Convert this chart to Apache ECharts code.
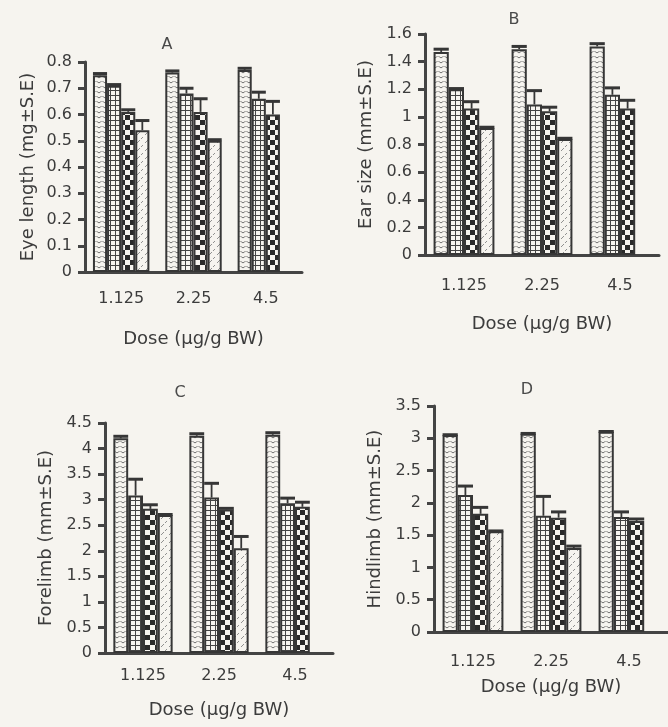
<!DOCTYPE html>
<html><head><meta charset="utf-8">
<script src="https://cdn.jsdelivr.net/npm/echarts@6/dist/echarts.min.js"></script>
<style>html,body{margin:0;padding:0;background:#f6f4ef}#c{width:668px;height:727px}</style>
</head><body><div id="c"></div>
<script>
const doses = ['1.125', '2.25', '4.5'];
const panelLetters = ['A', 'B', 'C', 'D'];
const yNames = ['Eye length (mg±S.E)', 'Ear size (mm±S.E)', 'Forelimb (mm±S.E)', 'Hindlimb (mm±S.E)'];
const xName = 'Dose (µg/g BW)';
const yMax = [0.8, 1.6, 4.5, 3.5];
const yStep = [0.1, 0.2, 0.5, 0.5];

// Panel A: Eye length
const eyeS1 = [0.75, 0.76, 0.77], eyeE1 = [0.006, 0.006, 0.006];
const eyeS2 = [0.71, 0.68, 0.66], eyeE2 = [0.004, 0.02, 0.025];
const eyeS3 = [0.61, 0.61, 0.60], eyeE3 = [0.008, 0.05, 0.05];
const eyeS4 = [0.54, 0.50, null], eyeE4 = [0.037, 0.004, null];
// Panel B: Ear size
const earS1 = [1.47, 1.49, 1.51], earE1 = [0.02, 0.02, 0.02];
const earS2 = [1.20, 1.09, 1.16], earE2 = [0.005, 0.10, 0.05];
const earS3 = [1.06, 1.04, 1.06], earE3 = [0.05, 0.03, 0.06];
const earS4 = [0.92, 0.84, null], earE4 = [0.005, 0.005, null];
// Panel C: Forelimb
const foreS1 = [4.20, 4.25, 4.27], foreE1 = [0.04, 0.04, 0.04];
const foreS2 = [3.08, 3.04, 2.93], foreE2 = [0.32, 0.28, 0.10];
const foreS3 = [2.82, 2.81, 2.86], foreE3 = [0.08, 0.02, 0.09];
const foreS4 = [2.70, 2.05, null], foreE4 = [0.01, 0.23, null];
// Panel D: Hindlimb
const hindS1 = [3.05, 3.07, 3.10], hindE1 = [0.005, 0.005, 0.005];
const hindS2 = [2.12, 1.80, 1.78], hindE2 = [0.14, 0.30, 0.08];
const hindS3 = [1.83, 1.77, 1.72], hindE3 = [0.10, 0.09, 0.03];
const hindS4 = [1.56, 1.30, null], hindE4 = [0.005, 0.03, null];

const panelVals = [[eyeS1, eyeS2, eyeS3, eyeS4], [earS1, earS2, earS3, earS4], [foreS1, foreS2, foreS3, foreS4], [hindS1, hindS2, hindS3, hindS4]];
const panelErrs = [[eyeE1, eyeE2, eyeE3, eyeE4], [earE1, earE2, earE3, earE4], [foreE1, foreE2, foreE3, foreE4], [hindE1, hindE2, hindE3, hindE4]];

const BG = '#f6f4ef', INK = '#363636', TXT = '#3c3c3c';
function pat(type) {
  const c = document.createElement('canvas');
  let ctx;
  if (type === 'wave') {
    c.width = 6; c.height = 5; ctx = c.getContext('2d');
    ctx.fillStyle = BG; ctx.fillRect(0, 0, 6, 5);
    ctx.strokeStyle = '#666'; ctx.lineWidth = 0.9;
    ctx.beginPath(); ctx.moveTo(0.5, 1); ctx.quadraticCurveTo(3, 4.5, 5.5, 1); ctx.stroke();
  } else if (type === 'grid') {
    c.width = 5; c.height = 5; ctx = c.getContext('2d');
    ctx.fillStyle = BG; ctx.fillRect(0, 0, 5, 5);
    ctx.fillStyle = '#444'; ctx.fillRect(0, 0, 5, 1); ctx.fillRect(0, 0, 1, 5);
  } else if (type === 'check') {
    c.width = 10; c.height = 10; ctx = c.getContext('2d');
    ctx.fillStyle = BG; ctx.fillRect(0, 0, 10, 10);
    ctx.fillStyle = '#2a2a2a'; ctx.fillRect(0, 0, 5, 5); ctx.fillRect(5, 5, 5, 5);
  } else {
    c.width = 8; c.height = 8; ctx = c.getContext('2d');
    ctx.fillStyle = BG; ctx.fillRect(0, 0, 8, 8);
    ctx.strokeStyle = '#777'; ctx.lineWidth = 0.8;
    ctx.beginPath(); ctx.moveTo(1, 7); ctx.lineTo(4, 4); ctx.moveTo(5, 3); ctx.lineTo(7, 1); ctx.stroke();
  }
  return { image: c, repeat: 'repeat' };
}
const patterns = [pat('wave'), pat('grid'), pat('check'), pat('hatch')];

const grids = [
  { left: 85, top: 62, width: 217, height: 210 },
  { left: 425, top: 34, width: 234, height: 221 },
  { left: 105, top: 423, width: 228, height: 230 },
  { left: 434, top: 406, width: 241, height: 226 }
];
const yNameGap = [48, 50, 50, 50];
const xNameGap = [58, 60, 48, 46];
const xLabelMargin = [19, 23, 15, 22];
const titlePos = [[167, 45], [514, 20], [180, 393], [527, 390]];
const CATGAP = 0.22;
const FONT = 'DejaVu Sans';

const xAxis = [], yAxis = [], series = [], graphic = [];
for (let p = 0; p < 4; p++) {
  xAxis.push({
    type: 'category', gridIndex: p, data: doses,
    name: xName, nameLocation: 'middle', nameGap: xNameGap[p],
    nameTextStyle: { fontFamily: FONT, fontSize: 18, color: TXT },
    axisLine: { lineStyle: { color: '#444', width: 3 } },
    axisTick: { length: 6, lineStyle: { color: '#444', width: 3 } },
    axisLabel: { fontFamily: FONT, fontSize: 16, color: TXT, margin: xLabelMargin[p] }
  });
  yAxis.push({
    type: 'value', gridIndex: p, min: 0, max: yMax[p], interval: yStep[p],
    name: yNames[p], nameLocation: 'middle', nameGap: yNameGap[p],
    nameTextStyle: { fontFamily: FONT, fontSize: 18, color: TXT },
    axisLine: { show: true, lineStyle: { color: '#444', width: 3 } },
    axisTick: { show: true, length: 7, lineStyle: { color: '#444', width: 3 } },
    axisLabel: { fontFamily: FONT, fontSize: 16, color: TXT, margin: 13 },
    splitLine: { show: false }
  });
  graphic.push({ type: 'text', x: titlePos[p][0], y: titlePos[p][1],
    style: { text: panelLetters[p], font: '16px "DejaVu Sans"', fill: '#4a4a4a', textAlign: 'center', textVerticalAlign: 'middle' } });
  for (let s = 0; s < 4; s++) {
    series.push({
      type: 'bar', xAxisIndex: p, yAxisIndex: p, data: panelVals[p][s],
      barGap: '0%', barCategoryGap: (CATGAP * 100) + '%',
      itemStyle: { color: patterns[s], borderColor: INK, borderWidth: 2 },
      silent: true
    });
  }
  for (let s = 0; s < 4; s++) {
    const d = [];
    panelVals[p][s].forEach((v, i) => { if (v != null) d.push([i, v, panelErrs[p][s][i]]); });
    series.push({
      type: 'custom', xAxisIndex: p, yAxisIndex: p, data: d, z: 5, silent: true,
      renderItem: (params, api) => {
        const i = api.value(0), v = api.value(1), e = api.value(2);
        const b = api.coord([i, v]);
        const t = api.coord([i, v + e]);
        const band = api.size([1, 0])[0];
        const bw = band * (1 - CATGAP) / 4;
        const cx = b[0] + (-2 + s + 0.5) * bw;
        return { type: 'group', children: [
          { type: 'line', shape: { x1: cx, y1: b[1], x2: cx, y2: t[1] }, style: { stroke: INK, lineWidth: 1.8 } },
          { type: 'line', shape: { x1: cx - bw / 2, y1: t[1], x2: cx + bw / 2, y2: t[1] }, style: { stroke: INK, lineWidth: 3 } }
        ] };
      }
    });
  }
}

const chart = echarts.init(document.getElementById('c'), null, { renderer: 'canvas' });
chart.setOption({
  backgroundColor: BG, animation: false,
  grid: grids, xAxis, yAxis, series, graphic
});
</script></body></html>
